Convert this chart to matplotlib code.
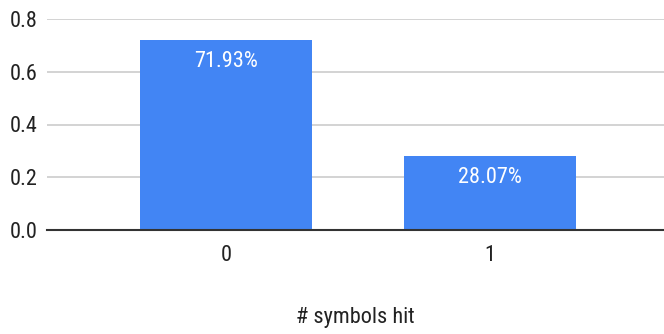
import matplotlib
matplotlib.use("Agg")
import matplotlib.pyplot as plt
from matplotlib import font_manager

categories = ["0", "1"]
shares = [0.7193, 0.2807]
bar_labels = ["71.93%", "28.07%"]
yticks = [0.0, 0.2, 0.4, 0.6, 0.8]
xlabel = "# symbols hit"

# the reference uses a condensed face; take the narrowest one we have
names = {f.name for f in font_manager.fontManager.ttflist}
family = "Roboto"
for cand in ["Roboto Condensed", "Liberation Sans Narrow", "Open Sans Condensed"]:
    if cand in names:
        family = cand
        break
plt.rcParams["font.family"] = [family, "DejaVu Sans"]

fig = plt.figure(figsize=(6.64, 3.34), dpi=100)
ax = fig.add_axes([47 / 664, 1 - 230 / 334, 1 - 47 / 664, (230 - 19) / 334])

x = range(len(categories))
ax.bar(x, shares, width=0.65, color="#4285F4", zorder=3)
for xi, v, lab in zip(x, shares, bar_labels):
    ax.annotate(lab, (xi, v), xytext=(0, -8), textcoords="offset points",
                ha="center", va="top", color="white", fontsize=16)

ax.set_ylim(0, 0.8)
ax.set_xlim(-0.678, 1.659)
ax.set_yticks(yticks)
ax.set_yticklabels([f"{t:.1f}" for t in yticks], fontsize=16, color="#222222")
ax.set_xticks(list(x))
ax.set_xticklabels(categories, fontsize=16, color="#222222")
ax.tick_params(length=0, pad=7)
ax.tick_params(axis="x", pad=11)
ax.grid(axis="y", color="#cccccc", linewidth=1.2, zorder=0)
for s in ["top", "right", "left"]:
    ax.spines[s].set_visible(False)
ax.spines["bottom"].set_color("#333333")
ax.spines["bottom"].set_linewidth(1.5)
ax.spines["bottom"].set_zorder(4)
ax.set_xlabel(xlabel, fontsize=16, color="#222222", labelpad=29)

fig.savefig("out.png", dpi=100)
